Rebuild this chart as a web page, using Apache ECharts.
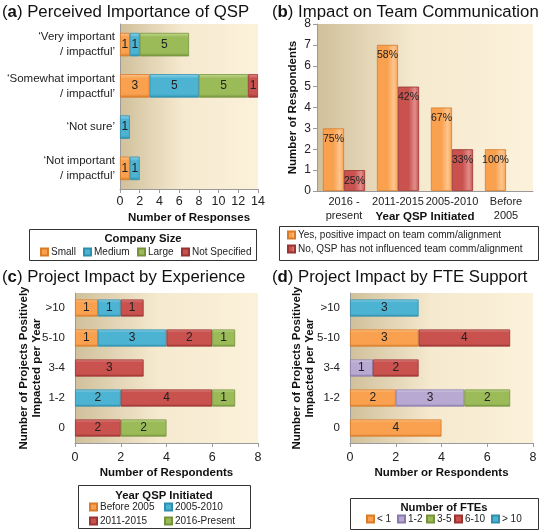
<!DOCTYPE html>
<html><head><meta charset="utf-8">
<script src="https://cdn.jsdelivr.net/npm/echarts@6/dist/echarts.min.js"></script>
<style>html,body{margin:0;padding:0;background:#fff}#c{width:542px;height:531px}</style>
</head><body><div id="c"></div>
<script>
// ---------- DATA ----------
// (a) Perceived Importance of QSP (top to bottom)
const aCats = ['\u2018Very important\n/ impactful\u2019', '\u2018Somewhat important\n/ impactful\u2019', '\u2018Not sure\u2019', '\u2018Not important\n/ impactful\u2019'];
const aSmall = [1, 3, 0, 1];
const aMedium = [1, 5, 1, 1];
const aLarge = [5, 5, 0, 0];
const aNotSpecified = [0, 1, 0, 0];
const aTicks = [0, 14, 2];

// (b) Impact on Team Communication
const bCats = ['2016 -\npresent', '2011-2015', '2005-2010', 'Before\n2005'];
const bYes = [3, 7, 4, 2];
const bNo = [1, 5, 2, 0];
const bYesPct = ['75%', '58%', '67%', '100%'];
const bNoPct = ['25%', '42%', '33%', ''];
const bTicks = [0, 8, 1];

// (c) Project Impact by Experience (top to bottom)
const cCats = ['>10', '5-10', '3-4', '1-2', '0'];
const cBefore2005 = [1, 1, 0, 0, 0];
const c2005to2010 = [1, 3, 0, 2, 0];
const c2011to2015 = [1, 2, 3, 4, 2];
const c2016toPresent = [0, 1, 0, 1, 2];

// (d) Project Impact by FTE Support (top to bottom)
const dCats = ['>10', '5-10', '3-4', '1-2', '0'];
const dLt1 = [0, 3, 0, 2, 4];
const d1to2 = [0, 0, 1, 3, 0];
const d3to5 = [0, 0, 0, 2, 0];
const d6to10 = [0, 4, 2, 0, 0];
const dGt10 = [3, 0, 0, 0, 0];
const cdTicks = [0, 8, 2];

// ---------- STYLE ----------
const FONT = 'Liberation Sans, Arial, sans-serif';
const G = echarts.graphic;
const PAL = {
  orange: ['#fcc690', '#f9a14f', '#d97b27'],
  blue:   ['#93d5ea', '#4db3d2', '#2f8fae'],
  green:  ['#c6db93', '#9bbb59', '#76933c'],
  red:    ['#e28d8a', '#c9514e', '#9a3431'],
  purple: ['#dbd2ea', '#b7a9d1', '#8b78ad']
};
function fillH(p) { return new G.LinearGradient(0, 0, 0, 1, [{offset: 0, color: p[0]}, {offset: 0.18, color: p[1]}, {offset: 0.85, color: p[1]}, {offset: 1, color: p[2]}]); }
function fillV(p) { return new G.LinearGradient(0, 0, 1, 0, [{offset: 0, color: p[1]}, {offset: 0.5, color: p[1]}, {offset: 0.8, color: p[0]}, {offset: 1, color: p[1]}]); }
function bgFill() { return new G.LinearGradient(0, 0, 1, 0, [{offset: 0, color: '#d0c09b'}, {offset: 0.45, color: '#f5e9cf'}, {offset: 1, color: '#fcf1da'}]); }
const clean = arr => arr.map(v => v === 0 ? '-' : v);

const axisLine = {lineStyle: {color: '#9a9a9a'}};
const axisTick = {lineStyle: {color: '#9a9a9a'}, length: 4};
const tickLbl = (fs) => ({color: '#222', fontSize: fs, fontFamily: FONT});
const nameStyle = {color: '#111', fontSize: 11.5, fontWeight: 'bold', fontFamily: FONT};

function stackSeries(name, data, pal, xi, stack) {
  return {
    type: 'bar', name: name, stack: stack, xAxisIndex: xi, yAxisIndex: xi,
    data: clean(data), barCategoryGap: '43%',
    itemStyle: {color: fillH(pal), borderColor: pal[2], borderWidth: 0.8},
    label: {show: true, position: 'inside', color: '#222', fontSize: 12, fontFamily: FONT},
    emphasis: {disabled: true}
  };
}

const grids = [
  {left: 120, top: 24, width: 138, height: 165},
  {left: 317, top: 24, width: 216, height: 167},
  {left: 75, top: 293, width: 183, height: 150},
  {left: 350, top: 293, width: 183, height: 150}
].map(g => Object.assign(g, {show: true, borderWidth: 0, backgroundColor: bgFill()}));

const xAxes = [
  {gridIndex: 0, type: 'value', min: aTicks[0], max: aTicks[1], interval: aTicks[2], splitLine: {show: false},
   axisLine: Object.assign({show: true}, axisLine), axisTick: Object.assign({show: true}, axisTick), axisLabel: Object.assign({margin: 6}, tickLbl(12.5)),
   name: 'Number of Responses', nameLocation: 'middle', nameGap: 23, nameMoveOverlap: false, nameTextStyle: nameStyle},
  {gridIndex: 1, type: 'category', data: bCats, axisLine: axisLine, axisTick: Object.assign({alignWithLabel: false}, axisTick),
   axisLabel: Object.assign({margin: 4, interval: 0, lineHeight: 14}, tickLbl(11)),
   name: 'Year QSP Initiated', nameLocation: 'middle', nameGap: 20, nameMoveOverlap: false, nameTextStyle: nameStyle},
  {gridIndex: 2, type: 'value', min: cdTicks[0], max: cdTicks[1], interval: cdTicks[2], splitLine: {show: false},
   axisLine: Object.assign({show: true}, axisLine), axisTick: Object.assign({show: true}, axisTick), axisLabel: Object.assign({margin: 8}, tickLbl(12.5)),
   name: 'Number of Respondents', nameLocation: 'middle', nameGap: 24, nameMoveOverlap: false, nameTextStyle: nameStyle},
  {gridIndex: 3, type: 'value', min: cdTicks[0], max: cdTicks[1], interval: cdTicks[2], splitLine: {show: false},
   axisLine: Object.assign({show: true}, axisLine), axisTick: Object.assign({show: true}, axisTick), axisLabel: Object.assign({margin: 8}, tickLbl(12.5)),
   name: 'Number or Respondents', nameLocation: 'middle', nameGap: 24, nameMoveOverlap: false, nameTextStyle: nameStyle}
];
const yAxes = [
  {gridIndex: 0, type: 'category', data: aCats, inverse: true, axisLine: axisLine, axisTick: axisTick,
   axisLabel: Object.assign({margin: 5, lineHeight: 15, align: 'right'}, tickLbl(11.5))},
  {gridIndex: 1, type: 'value', min: bTicks[0], max: bTicks[1], interval: bTicks[2], splitLine: {show: false},
   axisLine: Object.assign({show: true}, axisLine), axisTick: Object.assign({show: true}, axisTick), axisLabel: Object.assign({margin: 6}, tickLbl(12)),
   name: 'Number of Respondents', nameLocation: 'middle', nameGap: 18, nameMoveOverlap: false, nameTextStyle: nameStyle},
  {gridIndex: 2, type: 'category', data: cCats, inverse: true, axisLine: axisLine, axisTick: axisTick,
   axisLabel: Object.assign({margin: 10}, tickLbl(11.5)),
   name: 'Number of Projects Positively\nImpacted per Year', nameLocation: 'middle', nameGap: 32, nameMoveOverlap: false,
   nameTextStyle: Object.assign({lineHeight: 13}, nameStyle)},
  {gridIndex: 3, type: 'category', data: dCats, inverse: true, axisLine: axisLine, axisTick: axisTick,
   axisLabel: Object.assign({margin: 10}, tickLbl(11.5)),
   name: 'Number of Projects Positively\nImpacted per Year', nameLocation: 'middle', nameGap: 34, nameMoveOverlap: false,
   nameTextStyle: Object.assign({lineHeight: 13}, nameStyle)}
];

const series = [
  stackSeries('Small', aSmall, PAL.orange, 0, 'a'),
  stackSeries('Medium', aMedium, PAL.blue, 0, 'a'),
  stackSeries('Large', aLarge, PAL.green, 0, 'a'),
  stackSeries('Not Specified', aNotSpecified, PAL.red, 0, 'a'),
  {type: 'bar', name: 'Yes, positive impact on team comm/alignment', xAxisIndex: 1, yAxisIndex: 1, data: clean(bYes),
   barGap: '0%', barCategoryGap: '22%', itemStyle: {color: fillV(PAL.orange), borderColor: PAL.orange[2], borderWidth: 0.8},
   label: {show: true, position: 'insideTop', distance: 5, color: '#222', fontSize: 10.5, fontFamily: FONT, formatter: p => bYesPct[p.dataIndex]},
   emphasis: {disabled: true}},
  {type: 'bar', name: 'No, QSP has not influenced team comm/alignment', xAxisIndex: 1, yAxisIndex: 1, data: clean(bNo),
   barGap: '0%', barCategoryGap: '22%', itemStyle: {color: fillV(PAL.red), borderColor: PAL.red[2], borderWidth: 0.8},
   label: {show: true, position: 'insideTop', distance: 5, color: '#222', fontSize: 10.5, fontFamily: FONT, formatter: p => bNoPct[p.dataIndex]},
   emphasis: {disabled: true}},
  stackSeries('Before 2005', cBefore2005, PAL.orange, 2, 'c'),
  stackSeries('2005-2010', c2005to2010, PAL.blue, 2, 'c'),
  stackSeries('2011-2015', c2011to2015, PAL.red, 2, 'c'),
  stackSeries('2016-Present', c2016toPresent, PAL.green, 2, 'c'),
  stackSeries('< 1', dLt1, PAL.orange, 3, 'd'),
  stackSeries('1-2', d1to2, PAL.purple, 3, 'd'),
  stackSeries('3-5', d3to5, PAL.green, 3, 'd'),
  stackSeries('6-10', d6to10, PAL.red, 3, 'd'),
  stackSeries('> 10', dGt10, PAL.blue, 3, 'd')
];

const legBase = {icon: 'rect', itemWidth: 7, itemHeight: 7, selectedMode: false, padding: 0,
  textStyle: {color: '#222', fontSize: 10, fontFamily: FONT, padding: [0, 0, 0, -2]}};
const leg = (name, x, y) => Object.assign({}, legBase, {data: [name], left: x, top: y});
const legends = [
  leg('Small', 40, 247), leg('Medium', 83, 247), leg('Large', 137, 247), leg('Not Specified', 181, 247),
  Object.assign({}, legBase, {data: ['Yes, positive impact on team comm/alignment', 'No, QSP has not influenced team comm/alignment'], orient: 'vertical', left: 287, top: 229, itemGap: 2,
    textStyle: {color: '#222', fontSize: 10, fontFamily: FONT, padding: [0, 0, 0, -2], lineHeight: 12}}),
  leg('Before 2005', 89, 502), leg('2005-2010', 164, 502), leg('2011-2015', 89, 516), leg('2016-Present', 164, 516),
  leg('< 1', 366, 514), leg('1-2', 397, 514), leg('3-5', 426, 514), leg('6-10', 454, 514), leg('> 10', 491, 514)
];

const titleStyle = {fontSize: 16.8, fontWeight: 'normal', color: '#111', fontFamily: FONT, rich: {b: {fontSize: 16.8, fontWeight: 'bold', color: '#111', fontFamily: FONT}}};
const titles = [
  {text: '({b|a}) Perceived Importance of QSP', left: 2, top: 4, padding: 0, textStyle: titleStyle},
  {text: '({b|b}) Impact on Team Communication', left: 272, top: 4, padding: 0, textStyle: titleStyle},
  {text: '({b|c}) Project Impact by Experience', left: 2, top: 269, padding: 0, textStyle: titleStyle},
  {text: '({b|d}) Project Impact by FTE Support', left: 272, top: 269, padding: 0, textStyle: titleStyle}
];

const boxStyle = {fill: 'none', stroke: '#333', lineWidth: 1};
const graphics = [
  {type: 'rect', shape: {x: 29.5, y: 229.5, width: 227, height: 31}, style: boxStyle},
  {type: 'rect', shape: {x: 279.5, y: 226.5, width: 259, height: 34}, style: boxStyle},
  {type: 'rect', shape: {x: 78.5, y: 485.5, width: 172, height: 43}, style: boxStyle},
  {type: 'rect', shape: {x: 350.5, y: 498.5, width: 188, height: 31}, style: boxStyle},
  {type: 'text', x: 143, y: 233, style: {text: 'Company Size', fill: '#111', font: 'bold 11.3px ' + FONT, textAlign: 'center'}},
  {type: 'text', x: 164, y: 490, style: {text: 'Year QSP Initiated', fill: '#111', font: 'bold 11.3px ' + FONT, textAlign: 'center'}},
  {type: 'text', x: 444, y: 502, style: {text: 'Number of FTEs', fill: '#111', font: 'bold 11.3px ' + FONT, textAlign: 'center'}}
];

const chart = echarts.init(document.getElementById('c'));
chart.setOption({
  animation: false,
  backgroundColor: '#fff',
  textStyle: {fontFamily: FONT},
  title: titles,
  grid: grids,
  xAxis: xAxes,
  yAxis: yAxes,
  legend: legends,
  series: series,
  graphic: graphics
});
</script>
</body></html>
